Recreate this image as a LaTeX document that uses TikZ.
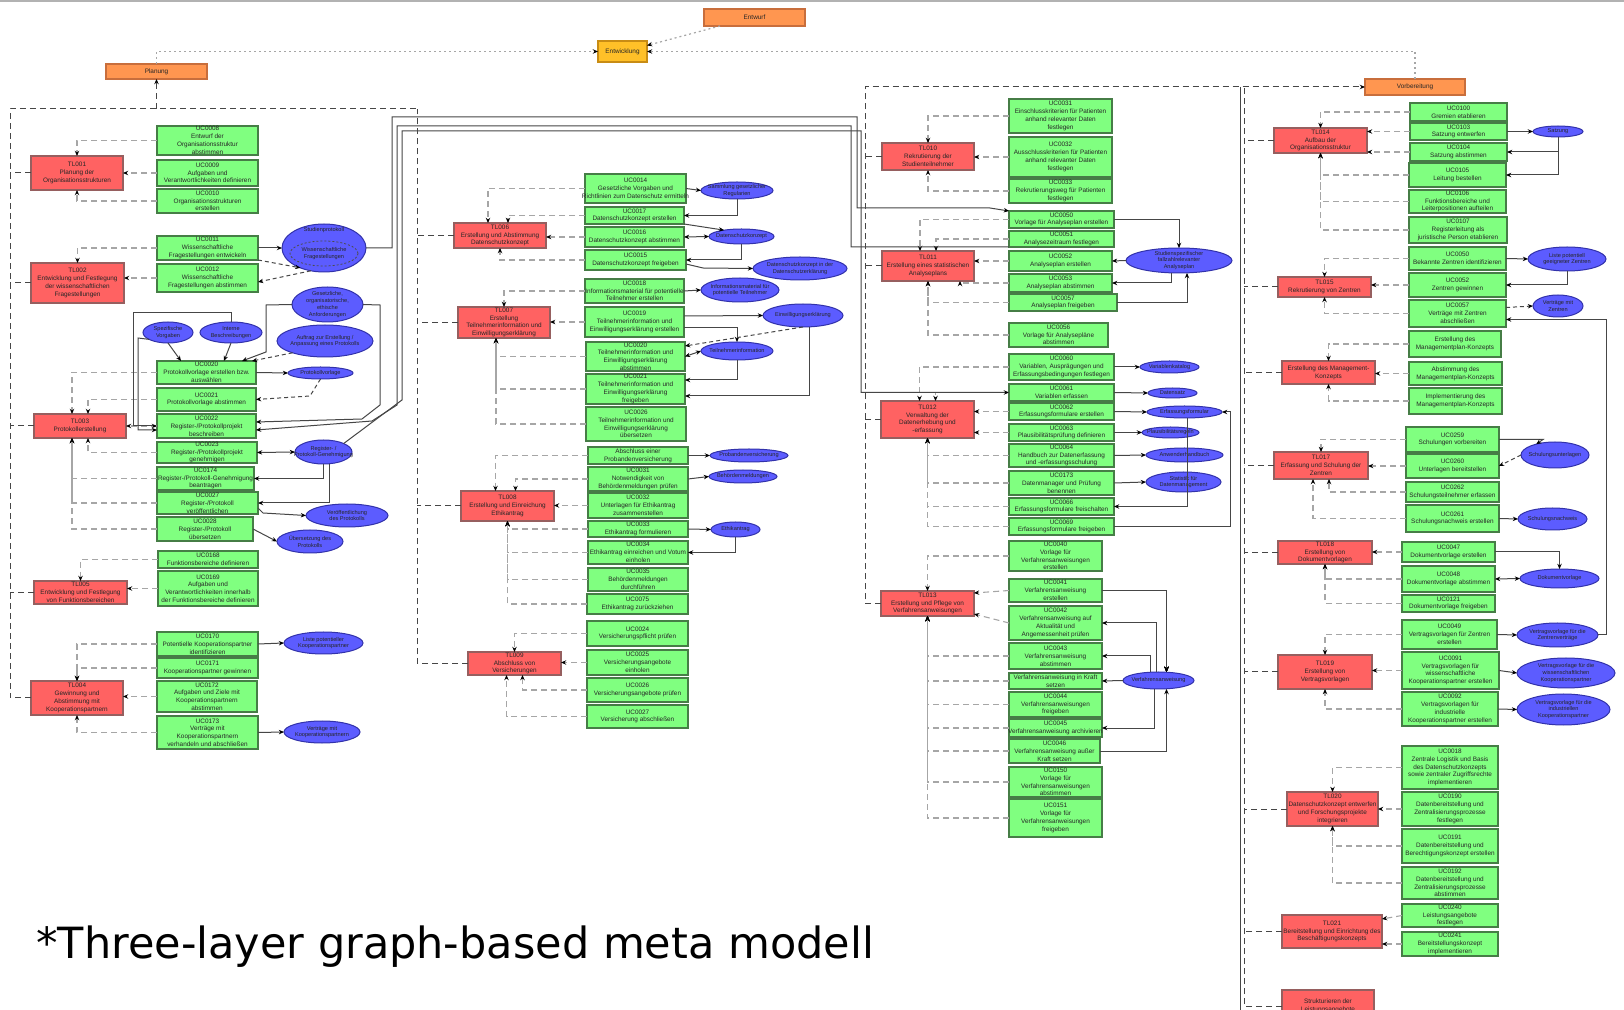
\documentclass[tikz,border=0pt]{standalone}
\usepackage{fontspec}
\newfontfamily\nf{Liberation Sans}
\newfontfamily\capf{DejaVu Sans}
\usetikzlibrary{shapes.geometric,arrows.meta,calc}
\definecolor{gfill}{RGB}{128,255,128}
\definecolor{gline}{RGB}{70,125,70}
\definecolor{rfill}{RGB}{255,98,98}
\definecolor{rline}{RGB}{150,95,95}
\definecolor{ofill}{RGB}{255,150,80}
\definecolor{oline}{RGB}{200,110,60}
\definecolor{yfill}{RGB}{255,192,40}
\definecolor{yline}{RGB}{200,140,20}
\definecolor{bfill}{RGB}{92,92,255}
\definecolor{bline}{RGB}{50,50,170}
\tikzset{
 gbox/.style={draw=gline, fill=gfill, line width=0.6pt, inner sep=0pt, outer sep=0pt},
 rbox/.style={draw=rline, fill=rfill, line width=0.6pt, inner sep=0pt, outer sep=0pt},
 obox/.style={draw=oline, fill=ofill, line width=0.6pt, inner sep=0pt, outer sep=0pt},
 ybox/.style={draw=yline, fill=yfill, line width=0.6pt, inner sep=0pt, outer sep=0pt},
 ell/.style={ellipse, draw=bline, fill=bfill, line width=0.5pt, inner sep=0pt, outer sep=0pt},
 ellin/.style={ellipse, draw=black!70, dash pattern=on 1pt off 1pt, line width=0.4pt, inner sep=0pt},
 lbl/.style={font=\nf\fontsize{3.2}{3.9}\selectfont, align=center, inner sep=0pt, text=black!85},
 lble/.style={font=\nf\fontsize{2.8}{3.4}\selectfont, align=center, inner sep=0pt, text=black!85},
 tip/.style={-{Stealth[length=2.6pt,width=2.2pt,color=black]}},
 dl/.style={draw=gray!70, line width=0.55pt, dash pattern=on 3pt off 2pt, tip},
 bus/.style={draw=gray!55!black, line width=0.5pt, dash pattern=on 3pt off 2pt},
 busa/.style={bus, tip},
 sl/.style={draw=gray!55!black, line width=0.5pt, tip},
 slb/.style={draw=gray!55!black, line width=0.5pt, {Stealth[length=2.6pt,width=2.2pt,color=black]}-{Stealth[length=2.6pt,width=2.2pt,color=black]}},
 sln/.style={draw=gray!55!black, line width=0.5pt},
 sld/.style={sl, dash pattern=on 2pt off 1.5pt},
 dotl/.style={draw=gray!70, line width=0.6pt, dash pattern=on 1pt off 1.5pt, tip},
}
\newcommand\bx[7]{\node[#1, minimum width={(#5-#3)*0.5pt}, minimum height={(#6-#4)*0.5pt}, label={[lbl]center:{#7}}] (#2) at ({(#3+#5)/2},{(#4+#6)/2}) {};}
\newcommand\bxe[6]{\node[ell, minimum width={(#4-#2)*0.5pt}, minimum height={(#5-#3)*0.5pt}, label={[lble]center:{#6}}] (#1) at ({(#2+#4)/2},{(#3+#5)/2}) {};}
\newcommand\Lup[3]{\draw[dl] (#2.west) -| ([xshift=#3]#1.north);}
\newcommand\Ldn[3]{\draw[dl] (#2.west) -| ([xshift=#3]#1.south);}
\newcommand\Lmid[2]{\draw[dl] (#2.west) -- (#1.east |- #2.west);}
\begin{document}
\begin{tikzpicture}[x=0.5pt,y=-0.5pt]
\fill[white] (0,0) rectangle (1624,1010);
\useasboundingbox (0,0) rectangle (1624,1010);
\draw[gray!60, line width=1pt] (0,1) -- (1624,1);

% ---------- top level ----------
\bx{obox}{planung}{106}{64}{207}{79}{Planung}
\bx{obox}{entwurf}{704}{9}{805}{26}{Entwurf}
\bx{ybox}{entw}{598}{41}{647}{62}{Entwicklung}
\bx{obox}{vorb}{1365}{79}{1465}{95}{Vorbereitung}
\draw[dotl] ([xshift=8pt]entwurf.south west) -- ([yshift=3pt]entw.east);
\draw[dotl] (planung.north) |- (entw.west);
\draw[dotl] (vorb.north) |- (entw.east);

% ---------- column 1 ----------
\bx{rbox}{t1}{31}{156}{123}{190}{TL001\\Planung der\\Organisationsstrukturen}
\bx{gbox}{a1}{157}{126}{258}{155}{UC0008\\Entwurf der\\Organisationsstruktur\\abstimmen}
\bx{gbox}{a2}{157}{160}{258}{186}{UC0009\\Aufgaben und\\Verantwortlichkeiten definieren}
\bx{gbox}{a3}{157}{189}{258}{213}{UC0010\\Organisationsstrukturen\\erstellen}
\Lup{t1}{a1}{0pt}\Lmid{t1}{a2}\Ldn{t1}{a3}{0pt}

\bx{rbox}{t2}{31}{263}{124}{303}{TL002\\Entwicklung und Festlegung\\der wissenschaftlichen\\Fragestellungen}
\bx{gbox}{a4}{157}{236}{258}{260}{UC0011\\Wissenschaftliche\\Fragestellungen entwickeln}
\bx{gbox}{a5}{157}{264}{258}{292}{UC0012\\Wissenschaftliche\\Fragestellungen abstimmen}
\node[ell, minimum width=42pt, minimum height=24pt] (e1) at (324,248) {};
\node[lble, anchor=north] at ([yshift=-1.5pt]e1.north) {Studienprotokoll};
\node[ellin, minimum width=34pt, minimum height=12.5pt, label={[lble]center:{Wissenschaftliche\\Fragestellungen}}] (e1i) at (324,253.5) {};
\Lup{t2}{a4}{0pt}\Lmid{t2}{a5}
\draw[sl] (a4.east) -- (e1.west);
\draw[sld] ([yshift=2pt]a5.north east) -- (e1.220);
\draw[sld] (e1.240) -- ([yshift=-2pt]a5.east);

\bxe{e2}{143}{322}{193}{343}{Spezifische\\Vorgaben}
\bxe{e3}{200}{322}{262}{343}{Interne\\Beschreibungen}
\bxe{e4}{292}{287}{363}{322}{Gesetzliche,\\organisatorische,\\ethische\\Anforderungen}
\bxe{e5}{277}{325}{373}{357}{Auftrag zur Erstellung /\\Anpassung eines Protokolls}
\bx{gbox}{a6}{157}{361}{256}{384}{UC0020\\Protokollvorlage erstellen bzw.\\auswählen}
\bxe{e6}{288}{367}{353}{379}{Protokollvorlage}
\bx{gbox}{a7}{157}{388}{256}{411}{UC0021\\Protokollvorlage abstimmen}
\bx{gbox}{a8}{157}{414}{256}{438}{UC0022\\Register-/Protokollprojekt\\beschreiben}
\bx{rbox}{t3}{34}{414}{126}{438}{TL003\\Protokollerstellung}
\bx{gbox}{a9}{157}{442}{257}{463}{UC0023\\Register-/Protokollprojekt\\genehmigen}
\bxe{e7}{295}{440}{352}{464}{Register- /\\Protokoll-Genehmigung}
\bx{gbox}{a10}{157}{467}{254}{490}{UC0174\\Register-/Protokoll-Genehmigung\\beantragen}
\bx{gbox}{a11}{157}{492}{258}{514}{UC0027\\Register-/Protokoll\\veröffentlichen}
\bxe{e8}{306}{504}{388}{527}{Veröffentlichung\\des Protokolls}
\bx{gbox}{a12}{157}{517}{253}{541}{UC0028\\Register-/Protokoll\\übersetzen}
\bxe{e9}{277}{530}{343}{553}{Übersetzung des\\Protokolls}
\Lup{t3}{a6}{-4pt}\Lup{t3}{a7}{4pt}\Lmid{t3}{a8}
\Ldn{t3}{a9}{4pt}\Ldn{t3}{a10}{-4pt}\Ldn{t3}{a11}{-4pt}\Ldn{t3}{a12}{-4pt}
\draw[sl] (e2.south) -- ([xshift=12pt]a6.north west);
\draw[sl] (e3.south) -- ([xshift=-16pt]a6.north east);
\draw[sld] (e5.200) -- ([xshift=-2pt]a6.north east);
\draw[sl] (e4.west) -- (266,305) -- (266,352) -- ([xshift=-7pt]a6.north east);
\draw[sl] (a6.east) -- (e6.west);
\draw[sld] (e6.south) -- (310,396) -- (a7.east);
\draw[sl] (e3.north) |- (133,313) |- (a8.west);
\draw[sl] (e2.200) -- (138,338) |- ([yshift=-2pt]a8.west);
\draw[sl] (e4.east) -- (380,305) -- (380,405) -- (362,419) -- ([yshift=2pt]a8.east);
\draw[slb] (a9.east) -- (e7.west);
\draw[sl] (e7.south) |- (a10.east);
\draw[sl] ([xshift=3pt]e7.south) |- (a11.east);
\draw[sl] ([yshift=3pt]a11.south east) -- (263,513) -- (e8.west);
\draw[sl] (a12.east) -- (e9.west);

\bx{gbox}{a13}{158}{551}{258}{568}{UC0168\\Funktionsbereiche definieren}
\bx{gbox}{a14}{158}{571}{258}{606}{UC0169\\Aufgaben und\\Verantwortlichkeiten innerhalb\\der Funktionsbereiche definieren}
\bx{rbox}{t4}{34}{581}{127}{604}{TL005\\Entwicklung und Festlegung\\von Funktionsbereichen}
\Lup{t4}{a13}{0pt}\Lmid{t4}{a14}

\bx{gbox}{a15}{157}{632}{258}{656}{UC0170\\Potentielle Kooperationspartner\\identifizieren}
\bxe{e10}{284}{632}{363}{654}{Liste potentieller\\Kooperationspartner}
\bx{gbox}{a16}{157}{658}{258}{678}{UC0171\\Kooperationspartner gewinnen}
\bx{gbox}{a17}{157}{681}{257}{712}{UC0172\\Aufgaben und Ziele mit\\Kooperationspartnern\\abstimmen}
\bx{rbox}{t5}{31}{681}{123}{715}{TL004\\Gewinnung und\\Abstimmung mit\\Kooperationspartnern}
\bx{gbox}{a18}{157}{716}{258}{749}{UC0173\\Verträge mit\\Kooperationspartnern\\verhandeln und abschließen}
\bxe{e11}{284}{721}{360}{743}{Verträge mit\\Kooperationspartnern}
\Lup{t5}{a15}{0pt}\Lup{t5}{a16}{0pt}\Lmid{t5}{a17}\Ldn{t5}{a18}{0pt}
\draw[sl] (a15.east) -- (e10.west);
\draw[sl] (a18.east) -- (e11.west);

% bus of Planung
\coordinate (b1top) at (10,109);
\coordinate (b2top) at (417,109);
\draw[bus] (t5.west) -| (b1top) -- (b2top);
\draw[busa] (planung.south |- b1top) -- (planung.south);
\foreach \t in {t1,t2,t3,t4} \draw[bus] (\t.west) -- (\t.west -| b1top);

% ---------- column 2 ----------
\bx{rbox}{t6}{454}{223}{546}{248}{TL006\\Erstellung und Abstimmung\\Datenschutzkonzept}
\bx{gbox}{b1}{585}{174}{686}{203}{UC0014\\Gesetzliche Vorgaben und\\Richtlinien zum Datenschutz ermitteln}
\bxe{e12}{701}{182}{773}{199}{Sammlung gesetzlicher\\Regularien}
\bx{gbox}{b2}{585}{207}{684}{224}{UC0017\\Datenschutzkonzept erstellen}
\bxe{e13}{709}{229}{774}{244}{Datenschutzkonzept}
\bx{gbox}{b3}{585}{227}{684}{247}{UC0016\\Datenschutzkonzept abstimmen}
\bx{gbox}{b4}{585}{250}{686}{270}{UC0015\\Datenschutzkonzept freigeben}
\bxe{e14}{753}{257}{847}{280}{Datenschutzkonzept in der\\Datenschutzerklärung}
\Lup{t6}{b1}{-6pt}\Lup{t6}{b2}{4pt}\Lmid{t6}{b3}\Ldn{t6}{b4}{0pt}
\draw[sl] (b1.east) -- (e12.west);
\draw[sl] (e12.south) |- (b2.east);
\draw[sl] (b2.south east) -- (e13.160);
\draw[slb] (b3.east) -- (e13.west);
\draw[sl] (e13.south) |- (b4.east);
\draw[sl] ([yshift=3pt]b4.south east) -- (703,268) -- (e14.west);

\bx{rbox}{t7}{458}{307}{550}{338}{TL007\\Erstellung\\Teilnehmerinformation und\\Einwilligungserklärung}
\bx{gbox}{b5}{585}{279}{684}{303}{UC0018\\Informationsmaterial für potentielle\\Teilnehmer erstellen}
\bxe{e15}{701}{278}{779}{302}{Informationsmaterial für\\potentielle Teilnehmer}
\bx{gbox}{b6}{585}{307}{684}{337}{UC0019\\Teilnehmerinformation und\\Einwilligungserklärung erstellen}
\bxe{e16}{763}{304}{843}{327}{Einwilligungserklärung}
\bx{gbox}{b7}{586}{342}{685}{371}{UC0020\\Teilnehmerinformation und\\Einwilligungserklärung\\abstimmen}
\bxe{e17}{701}{342}{773}{360}{Teilnehmerinformation}
\bx{gbox}{b8}{586}{374}{685}{404}{UC0021\\Teilnehmerinformation und\\Einwilligungserklärung\\freigeben}
\bx{gbox}{b9}{586}{407}{686}{441}{UC0026\\Teilnehmerinformation und\\Einwilligungserklärung\\übersetzen}
\Lup{t7}{b5}{0pt}\Lmid{t7}{b6}\Ldn{t7}{b7}{-4pt}\Ldn{t7}{b8}{-4pt}\Ldn{t7}{b9}{-4pt}
\draw[sl] (b5.east) -- (e15.west);
\draw[sl] ([yshift=3pt]b6.east) -- (e16.west);
\draw[sl] ([yshift=-3pt]b6.east) -| (e17.north);
\draw[slb] (b7.east) -- (e17.west);
\draw[sl] (e17.south) |- ([yshift=-3pt]b8.north east);
\draw[sld] (e16.south) -- ([yshift=-2pt]b7.north east);
\draw[sl] (e16.-60) |- ([yshift=4pt]b8.south east);

\bx{rbox}{t8}{461}{491}{554}{521}{TL008\\Erstellung und Einreichung\\Ethikantrag}
\bx{gbox}{c1}{588}{447}{688}{464}{Abschluss einer\\Probandenversicherung}
\bxe{e18}{710}{449}{788}{462}{Probandenversicherung}
\bx{gbox}{c2}{588}{467}{688}{491}{UC0031\\Notwendigkeit von\\Behördenmeldungen prüfen}
\bxe{e19}{709}{470}{777}{483}{Behördenmeldungen}
\bx{gbox}{c3}{588}{493}{688}{518}{UC0032\\Unterlagen für Ethikantrag\\zusammenstellen}
\bx{gbox}{c4}{588}{521}{688}{537}{UC0033\\Ethikantrag formulieren}
\bxe{e20}{711}{522}{760}{537}{Ethikantrag}
\bx{gbox}{c5}{588}{541}{688}{564}{UC0034\\Ethikantrag einreichen und Votum\\einholen}
\bx{gbox}{c6}{588}{568}{688}{591}{UC0035\\Behördenmeldungen\\durchführen}
\bx{gbox}{c7}{587}{594}{688}{614}{UC0075\\Ethikantrag zurückziehen}
\Lup{t8}{c1}{-6pt}\Lup{t8}{c2}{4pt}\Lmid{t8}{c3}
\Ldn{t8}{c4}{0pt}\Ldn{t8}{c5}{0pt}\Ldn{t8}{c6}{0pt}\Ldn{t8}{c7}{0pt}
\draw[sl] (c1.east) -- (e18.west);
\draw[sl] (c2.east) -- (e19.west);
\draw[sl] (c4.east) -- (e20.west);
\draw[sl] (e20.south) |- (c5.east);

\bx{rbox}{t9}{468}{652}{561}{675}{TL009\\Abschluss von\\Versicherungen}
\bx{gbox}{c8}{587}{621}{688}{646}{UC0024\\Versicherungspflicht prüfen}
\bx{gbox}{c9}{587}{650}{688}{675}{UC0025\\Versicherungsangebote\\einholen}
\bx{gbox}{c10}{587}{678}{688}{702}{UC0026\\Versicherungsangebote prüfen}
\bx{gbox}{c11}{587}{705}{688}{728}{UC0027\\Versicherung abschließen}
\Lup{t9}{c8}{0pt}\Lmid{t9}{c9}\Ldn{t9}{c10}{4pt}\Ldn{t9}{c11}{-4pt}

\draw[bus] (t9.west) -| (b2top);
\foreach \t in {t6,t7,t8} \draw[bus] (\t.west) -- (\t.west -| b2top);

% ---------- column 3 ----------
\bx{rbox}{t10}{882}{143}{974}{170}{TL010\\Rekrutierung der\\Studienteilnehmer}
\bx{gbox}{d1}{1009}{99}{1112}{133}{UC0031\\Einschlusskriterien für Patienten\\anhand relevanter Daten\\festlegen}
\bx{gbox}{d2}{1009}{137}{1112}{177}{UC0032\\Ausschlusskriterien für Patienten\\anhand relevanter Daten\\festlegen}
\bx{gbox}{d3}{1009}{179}{1112}{203}{UC0033\\Rekrutierungsweg für Patienten\\festlegen}
\Lup{t10}{d1}{0pt}\Lmid{t10}{d2}\Ldn{t10}{d3}{0pt}

\bx{rbox}{t11}{882}{251}{974}{281}{TL011\\Erstellung eines statistischen\\Analyseplans}
\bx{gbox}{d4}{1009}{211}{1114}{228}{UC0050\\Vorlage für Analyseplan erstellen}
\bx{gbox}{d5}{1009}{231}{1114}{247}{UC0051\\Analysezeitraum festlegen}
\bx{gbox}{d6}{1009}{251}{1112}{271}{UC0052\\Analyseplan erstellen}
\bxe{e21}{1126}{248}{1232}{273}{Studienspezifischer\\fallzahlrelevanter\\Analyseplan}
\bx{gbox}{d7}{1009}{274}{1112}{292}{UC0053\\Analyseplan abstimmen}
\bx{gbox}{d8}{1009}{294}{1117}{311}{UC0057\\Analyseplan freigeben}
\bx{gbox}{d9}{1009}{323}{1108}{347}{UC0056\\Vorlage für Analysepläne\\abstimmen}
\Lup{t11}{d4}{-4pt}\Lup{t11}{d5}{4pt}\Lmid{t11}{d6}
\Ldn{t11}{d7}{16pt}\Ldn{t11}{d8}{0pt}\Ldn{t11}{d9}{0pt}
\draw[sl] (d4.east) -| (e21.north);
\draw[sl] (e21.west) -- (d6.east);
\draw[sl] ([xshift=-4pt]e21.south) |- (d7.east);
\draw[sl] (d8.east) -| ([xshift=4pt]e21.south);

\bx{rbox}{t12}{881}{401}{974}{438}{TL012\\Verwaltung der\\Datenerhebung und\\-erfassung}
\bx{gbox}{d10}{1009}{354}{1114}{380}{UC0060\\Variablen, Ausprägungen und\\Erfassungsbedingungen festlegen}
\bxe{e22}{1140}{361}{1199}{373}{Variablenkatalog}
\bx{gbox}{d11}{1009}{384}{1114}{401}{UC0061\\Variablen erfassen}
\bxe{e23}{1148}{388}{1197}{398}{Datensatz}
\bx{gbox}{d12}{1009}{403}{1114}{420}{UC0062\\Erfassungsformulare erstellen}
\bxe{e24}{1147}{406}{1222}{418}{Erfassungsformular}
\bx{gbox}{d13}{1009}{424}{1114}{441}{UC0063\\Plausibilitätsprüfung definieren}
\bxe{e25}{1142}{427}{1199}{438}{Plausibilitätsregeln}
\bx{gbox}{d14}{1009}{444}{1114}{467}{UC0064\\Handbuch zur Datenerfassung\\und -erfassungsschulung}
\bxe{e26}{1146}{448}{1223}{462}{Anwenderhandbuch}
\bx{gbox}{d15}{1009}{471}{1114}{495}{UC0173\\Datenmanager und Prüfung\\benennen}
\bxe{e27}{1146}{472}{1221}{492}{Statistik für\\Datenmanagement}
\bx{gbox}{d16}{1009}{498}{1114}{515}{UC0066\\Erfassungsformulare freischalten}
\bx{gbox}{d17}{1009}{518}{1114}{535}{UC0069\\Erfassungsformulare freigeben}
\Lup{t12}{d10}{-4pt}\Lup{t12}{d11}{4pt}\Lmid{t12}{d12}\Lmid{t12}{d13}
\Ldn{t12}{d14}{0pt}\Ldn{t12}{d15}{0pt}\Ldn{t12}{d16}{0pt}\Ldn{t12}{d17}{0pt}
\draw[sl] (d10.east) -- (e22.west);
\draw[sl] (d11.east) -- (e23.west);
\draw[sl] (d12.east) -- (e24.west);
\draw[sl] (d13.east) -- (e25.west);
\draw[sl] (d14.east) -- (e26.west);
\draw[sl] (d15.east) -- (e27.west);
\draw[sl] (d17.east) -- (1230,526.5) |- (e24.east);
\draw[sl] (e24.-60) |- (d16.east);

\bx{rbox}{t13}{881}{591}{974}{616}{TL013\\Erstellung und Pflege von\\Verfahrensanweisungen}
\bx{gbox}{d18}{1009}{541}{1102}{571}{UC0040\\Vorlage für\\Verfahrensanweisungen\\erstellen}
\bx{gbox}{d19}{1009}{579}{1102}{602}{UC0041\\Verfahrensanweisung\\erstellen}
\bx{gbox}{d20}{1009}{606}{1102}{640}{UC0042\\Verfahrensanweisung auf\\Aktualität und\\Angemessenheit prüfen}
\bx{gbox}{d21}{1009}{643}{1102}{669}{UC0043\\Verfahrensanweisung\\abstimmen}
\bx{gbox}{d22}{1009}{673}{1102}{689}{Verfahrensanweisung in Kraft\\setzen}
\bxe{e28}{1123}{672}{1194}{689}{Verfahrensanweisung}
\bx{gbox}{d23}{1009}{692}{1102}{717}{UC0044\\Verfahrensanweisungen\\freigeben}
\bx{gbox}{d24}{1009}{719}{1102}{737}{UC0045\\Verfahrensanweisung archivieren}
\bx{gbox}{d25}{1009}{739}{1100}{763}{UC0046\\Verfahrensanweisung außer\\Kraft setzen}
\bx{gbox}{d26}{1009}{767}{1102}{797}{UC0150\\Vorlage für\\Verfahrensanweisungen\\abstimmen}
\bx{gbox}{d27}{1009}{799}{1102}{837}{UC0151\\Vorlage für\\Verfahrensanweisungen\\freigeben}
\Lup{t13}{d18}{0pt}
\draw[dl] (d19.west) -- ([yshift=-1pt]t13.north east);
\draw[dl] (d20.west) -- ([yshift=1pt]t13.south east);
\foreach \d in {d21,d22,d23,d24,d25,d26,d27} \Ldn{t13}{\d}{0pt}
\draw[sl] (d19.east) -| ([xshift=4pt]e28.north);
\draw[sl] ([xshift=-1pt]e28.north) |- (d20.east);
\draw[sl] ([xshift=-4pt]e28.north) |- (d21.east);
\draw[sl] (e28.west) -- (d22.east);
\draw[sl] ([xshift=-2pt]e28.south) |- (d24.east);
\draw[sl] (d25.east) -| ([xshift=4pt]e28.south);

% long connectors from column 1 to column 3
\draw[sl] (e1.east) -- (392,248) -- (392,117) -- (857,117) -- (857,208) -- (990,208) -- (d4.north west);
\draw[sl] (d5.south west) -- (851,247) -- (851,126) -- (397,126) -- (397,405) -- (372,421) -- ([yshift=-2pt]a8.east);
\draw[sl] (e7.north east) -- (402,400) -- (402,131) -- (861,131) |- (d11.west);

% bus of column 3
\coordinate (b3top) at (865,87);
\draw[busa] (t13.west) -| (b3top) -- (vorb.west);
\foreach \t in {t10,t11,t12} \draw[bus] (\t.west) -- (\t.west -| b3top);

% ---------- column 4 ----------
\bx{rbox}{t14}{1274}{128}{1367}{153}{TL014\\Aufbau der\\Organisationsstruktur}
\bx{gbox}{f1}{1410}{103}{1507}{121}{UC0100\\Gremien etablieren}
\bx{gbox}{f2}{1410}{123}{1507}{140}{UC0103\\Satzung entwerfen}
\bxe{e29}{1533}{126}{1583}{137}{Satzung}
\bx{gbox}{f3}{1410}{143}{1507}{161}{UC0104\\Satzung abstimmen}
\bx{gbox}{f4}{1409}{163}{1506}{187}{UC0105\\Leitung bestellen}
\bx{gbox}{f5}{1409}{190}{1506}{213}{UC0106\\Funktionsbereiche und\\Leiterpositionen aufteilen}
\bx{gbox}{f6}{1409}{217}{1507}{243}{UC0107\\Registerleitung als\\juristische Person etablieren}
\Lup{t14}{f1}{0pt}\Lmid{t14}{f2}\Lmid{t14}{f3}
\Ldn{t14}{f4}{0pt}\Ldn{t14}{f5}{0pt}\Ldn{t14}{f6}{0pt}
\draw[sl] (f2.east) -- (e29.west);
\draw[sl] (e29.south) |- (f3.east);
\draw[sl] (e29.south) |- (f4.east);

\bx{rbox}{t15}{1278}{277}{1371}{297}{TL015\\Rekrutierung von Zentren}
\bx{gbox}{f7}{1409}{247}{1506}{270}{UC0050\\Bekannte Zentren identifizieren}
\bxe{e30}{1528}{247}{1606}{271}{Liste potentiell\\geeigneter Zentren}
\bx{gbox}{f8}{1409}{273}{1506}{297}{UC0052\\Zentren gewinnen}
\bx{gbox}{f9}{1409}{300}{1506}{327}{UC0057\\Verträge mit Zentren\\abschließen}
\bxe{e31}{1533}{295}{1583}{317}{Verträge mit\\Zentren}
\Lup{t15}{f7}{0pt}\Lmid{t15}{f8}\Ldn{t15}{f9}{0pt}
\draw[sl] (f7.east) -- (e30.west);
\draw[sl] (e30.south) |- (f8.east);
\draw[sld] ([yshift=3pt]f9.east) -- (e31.west);

\bx{rbox}{t16}{1282}{361}{1375}{384}{Erstellung des Management-\\Konzepts}
\bx{gbox}{f10}{1409}{331}{1501}{357}{Erstellung des\\Managementplan-Konzepts}
\bx{gbox}{f11}{1409}{362}{1502}{385}{Abstimmung des\\Managementplan-Konzepts}
\bx{gbox}{f12}{1409}{388}{1502}{414}{Implementierung des\\Managementplan-Konzepts}
\Lup{t16}{f10}{0pt}\Lmid{t16}{f11}\Ldn{t16}{f12}{0pt}

\bx{rbox}{t17}{1274}{452}{1368}{479}{TL017\\Erfassung und Schulung der\\Zentren}
\bx{gbox}{f13}{1406}{427}{1499}{452}{UC0259\\Schulungen vorbereiten}
\bxe{e32}{1521}{442}{1589}{468}{Schulungsunterlagen}
\bx{gbox}{f14}{1406}{454}{1499}{478}{UC0260\\Unterlagen bereitstellen}
\bx{gbox}{f15}{1406}{482}{1499}{502}{UC0262\\Schulungsteilnehmer erfassen}
\bx{gbox}{f16}{1406}{505}{1499}{532}{UC0261\\Schulungsnachweis erstellen}
\bxe{e33}{1518}{508}{1587}{530}{Schulungsnachweis}
\Lup{t17}{f13}{0pt}\Lmid{t17}{f14}\Ldn{t17}{f15}{4pt}\Ldn{t17}{f16}{-4pt}
\draw[sl] (f13.east) -- (1543,439.5) -- (e32.150);
\draw[sld] (e32.west) -- (f14.east);
\draw[sl] (f16.east) -- (e33.west);

\bx{rbox}{t18}{1278}{541}{1372}{564}{TL018\\Erstellung von\\Dokumentvorlagen}
\bx{gbox}{f17}{1402}{542}{1495}{562}{UC0047\\Dokumentvorlage erstellen}
\bx{gbox}{f18}{1402}{566}{1495}{592}{UC0048\\Dokumentvorlage abstimmen}
\bxe{e34}{1520}{569}{1599}{588}{Dokumentvorlage}
\bx{gbox}{f19}{1402}{595}{1495}{612}{UC0121\\Dokumentvorlage freigeben}
\Lmid{t18}{f17}\Ldn{t18}{f18}{0pt}\Ldn{t18}{f19}{0pt}
\draw[sl] (f17.east) -| (e34.north);
\draw[slb] (f18.east) -- (e34.west);

\bx{rbox}{t19}{1278}{655}{1372}{689}{TL019\\Erstellung von\\Vertragsvorlagen}
\bx{gbox}{f20}{1402}{620}{1497}{649}{UC0049\\Vertragsvorlagen für Zentren\\erstellen}
\bxe{e35}{1517}{623}{1598}{647}{Vertragsvorlage für die\\Zentrenverträge}
\bx{gbox}{f21}{1402}{652}{1499}{689}{UC0091\\Vertragsvorlagen für\\wissenschaftliche\\Kooperationspartner erstellen}
\bxe{e36}{1517}{658}{1615}{688}{Vertragsvorlage für die\\wissenschaftlichen\\Kooperationspartner}
\bx{gbox}{f22}{1402}{692}{1498}{726}{UC0092\\Vertragsvorlagen für\\industrielle\\Kooperationspartner erstellen}
\bxe{e37}{1517}{694}{1610}{725}{Vertragsvorlage für die\\industriellen\\Kooperationspartner}
\Lup{t19}{f20}{0pt}\Lmid{t19}{f21}\Ldn{t19}{f22}{0pt}
\draw[sl] (f20.east) -- (e35.west);
\draw[sl] (f21.east) -- (e36.west);
\draw[sl] (f22.east) -- (e37.west);
\draw[sl] (e35.east) -- (1606,635) |- ([yshift=-3pt]f9.east);

\bx{rbox}{t20}{1287}{792}{1378}{826}{TL020\\Datenschutzkonzept entwerfen\\und Forschungsprojekte\\integrieren}
\bx{gbox}{f23}{1402}{746}{1498}{789}{UC0018\\Zentrale Logistik und Basis\\des Datenschutzkonzepts\\sowie zentraler Zugriffsrechte\\implementieren}
\bx{gbox}{f24}{1402}{792}{1498}{826}{UC0190\\Datenbereitstellung und\\Zentralisierungsprozesse\\festlegen}
\bx{gbox}{f25}{1402}{829}{1498}{863}{UC0191\\Datenbereitstellung und\\Berechtigungskonzept erstellen}
\bx{gbox}{f26}{1402}{867}{1498}{899}{UC0192\\Datenbereitstellung und\\Zentralisierungsprozesse\\abstimmen}
\Lup{t20}{f23}{0pt}\Lmid{t20}{f24}\Ldn{t20}{f25}{0pt}\Ldn{t20}{f26}{0pt}

\bx{rbox}{t21}{1282}{915}{1382}{948}{TL021\\Bereitstellung und Einrichtung des\\Beschäftigungskonzepts}
\bx{gbox}{f27}{1402}{904}{1498}{927}{UC0240\\Leistungsangebote\\festlegen}
\bx{gbox}{f28}{1402}{932}{1498}{956}{UC0241\\Bereitstellungskonzept\\implementieren}
\draw[dl] (f27.west) -- ([yshift=-2pt]t21.north east);
\Lmid{t21}{f28}

\bx{rbox}{t22}{1282}{990}{1374}{1022}{Strukturieren der\\Leistungsangebote}

% bus of column 4
\coordinate (b4top) at (1244,87);
\draw[sln] (1240,87) -- (1240,1010);
\draw[bus] (t22.west) -| (b4top);
\foreach \t in {t14,t15,t16,t17,t18,t19,t20,t21} \draw[bus] (\t.west) -- (\t.west -| b4top);

% caption
\node[anchor=base west, inner sep=0pt, font=\capf\fontsize{21.5}{24}\selectfont] (cap) at (36,958) {*Three-layer graph-based meta modell};
\end{tikzpicture}
\end{document}
